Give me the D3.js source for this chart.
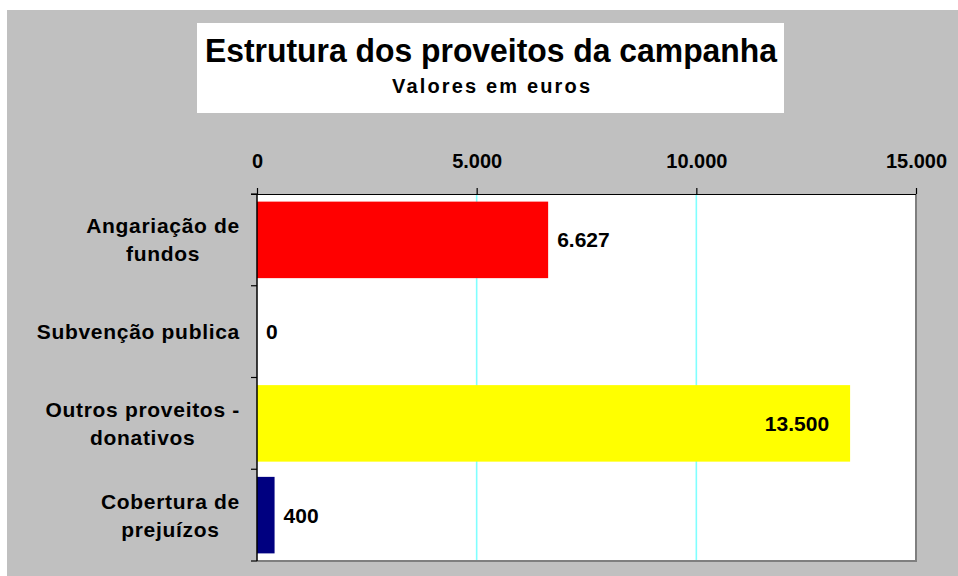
<!DOCTYPE html>
<html><head><meta charset="utf-8">
<script src="https://cdnjs.cloudflare.com/ajax/libs/d3/7.8.5/d3.min.js"></script>
<style>
html,body{margin:0;padding:0;background:#fff;}
svg{display:block;font-family:Arial,"Liberation Sans",sans-serif;font-weight:bold;}
</style></head>
<body>
<svg id="chart" width="958" height="576"></svg>
<script>
// ---- data ----
const categories = [["Angariação de","fundos"],["Subvenção publica"],["Outros proveitos -","donativos"],["Cobertura de","prejuízos"]];
const values = [6627, 0, 13500, 400];
const barColors = ["#ff0000", "#ff0000", "#ffff00", "#000080"];
const tickValues = [0, 5000, 10000, 15000];
const title = "Estrutura dos proveitos da campanha";
const subtitle = "Valores em euros";

(function () {
const locale = d3.formatLocale({decimal: ",", thousands: ".", grouping: [3], currency: ["", " €"]});
const fmt = locale.format(",d");

const svg = d3.select("#chart");
// grey chart area
svg.append("rect").attr("x", 7).attr("y", 10).attr("width", 951).attr("height", 566).attr("fill", "#c0c0c0");

// title box
svg.append("rect").attr("x", 197).attr("y", 23).attr("width", 587).attr("height", 90).attr("fill", "#fff");
svg.append("text").attr("x", 491).attr("y", 62).attr("text-anchor", "middle")
  .attr("font-size", 34).attr("textLength", 572).attr("lengthAdjust", "spacingAndGlyphs").text(title);
svg.append("text").attr("x", 491).attr("y", 93).attr("text-anchor", "middle")
  .attr("font-size", 20).attr("textLength", 198).attr("lengthAdjust", "spacing").text(subtitle);

const pL = 257, pR = 916, pT = 194, pB = 561;
const x = d3.scaleLinear().domain([0, 15000]).range([pL, pR]);
const y = d3.scaleBand().domain(d3.range(categories.length)).range([pT, pB]).paddingInner(0.166).paddingOuter(0.083);

// plot area
svg.append("rect").attr("x", pL).attr("y", pT).attr("width", pR - pL).attr("height", pB - pT).attr("fill", "#fff");

// gridlines
svg.append("g").selectAll("line").data(tickValues.slice(1, -1)).join("line")
  .attr("x1", d => x(d)).attr("x2", d => x(d)).attr("y1", pT).attr("y2", pB)
  .attr("stroke", "#80ffff").attr("stroke-width", 1.6);

// right / bottom border (grey)
svg.append("path").attr("d", `M${pR},${pT}V${pB}H${pL}`).attr("fill", "none")
  .attr("stroke", "#7f7f7f").attr("stroke-width", 2);

// bars
svg.append("g").selectAll("rect").data(values).join("rect")
  .attr("x", x(0)).attr("y", (d, i) => y(i)).attr("width", d => x(d) - x(0)).attr("height", y.bandwidth())
  .attr("fill", (d, i) => barColors[i]);

// top axis
const xAxis = d3.axisTop(x).tickValues(tickValues).tickFormat(fmt).tickSize(6).tickPadding(20);
const gx = svg.append("g").attr("transform", `translate(0,${pT})`).call(xAxis);
gx.select(".domain").attr("stroke", "#000").attr("stroke-width", 1.2).attr("d", `M${pL - 6},0.5H${pR}`);
gx.selectAll(".tick line").attr("stroke", "#000").attr("stroke-width", 1.2);
gx.selectAll(".tick text").attr("font-size", 20).attr("font-family", "Arial,'Liberation Sans',sans-serif")
  .attr("font-weight", "bold").attr("fill", "#000");

// left axis line with ticks at band boundaries
const step = (pB - pT) / categories.length;
const gy = svg.append("g");
gy.append("line").attr("x1", pL).attr("x2", pL).attr("y1", pT).attr("y2", pB).attr("stroke", "#000").attr("stroke-width", 1.5);
gy.selectAll("line.t").data(d3.range(categories.length + 1)).join("line").attr("class", "t")
  .attr("x1", pL - 6).attr("x2", pL).attr("y1", i => pT + i * step).attr("y2", i => pT + i * step)
  .attr("stroke", "#000").attr("stroke-width", 1.2);

// category labels
const lineH = 28;
categories.forEach((lines, i) => {
  const cy = y(i) + y.bandwidth() / 2;
  const t = svg.append("text").attr("font-size", 21).attr("letter-spacing", 0.7).attr("text-anchor", "middle").attr("fill", "#000");
  lines.forEach((ln, j) => {
    t.append("tspan").attr("x", 0).attr("y", cy + 7.5 + (j - (lines.length - 1) / 2) * lineH).text(ln);
  });
  const w = t.node().getBBox().width;
  t.attr("transform", `translate(${240 - w / 2},0)`);
});

// value labels
values.forEach((v, i) => {
  const cy = y(i) + y.bandwidth() / 2;
  const t = svg.append("text").attr("font-size", 21).attr("fill", "#000").attr("y", cy + 7.5).text(fmt(v));
  const w = t.node().getComputedTextLength();
  if (x(v) + 9 + w > pR) {
    t.attr("x", x(v) - 21).attr("text-anchor", "end");
  } else {
    t.attr("x", x(v) + 9);
  }
});
})();
</script>
</body></html>
